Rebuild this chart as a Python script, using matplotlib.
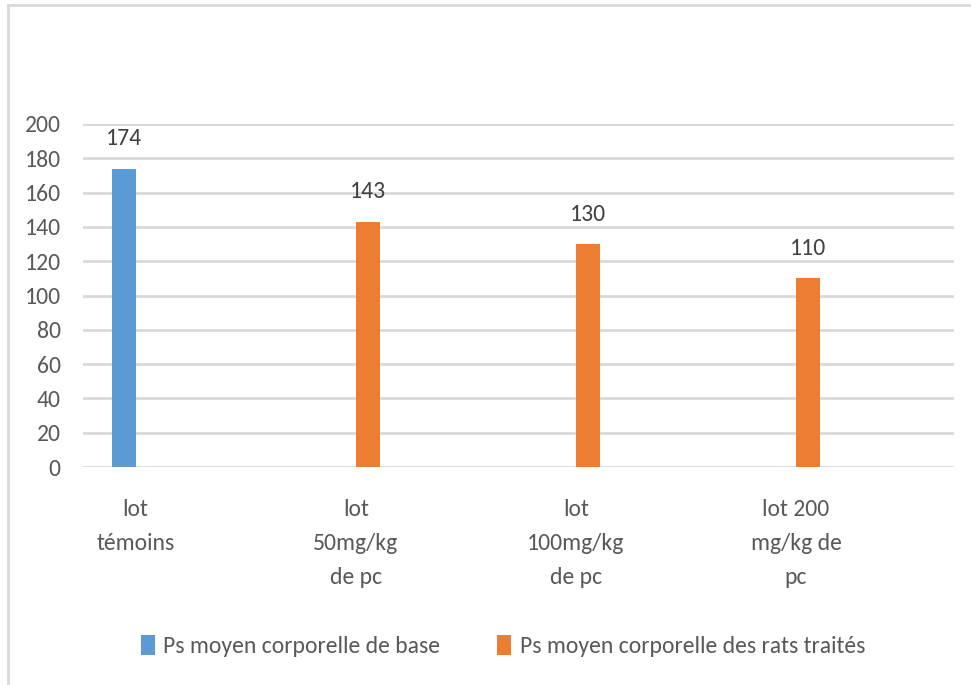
import matplotlib
matplotlib.use("Agg")
import matplotlib.pyplot as plt
from matplotlib.patches import Patch
from matplotlib.lines import Line2D
import numpy as np

plt.rcParams['font.family'] = ['Carlito', 'DejaVu Sans']

categories = ["lot\ntémoins", "lot\n50mg/kg\nde pc", "lot\n100mg/kg\nde pc", "lot 200\nmg/kg de\npc"]
series_names = ["Ps moyen corporelle de base", "Ps moyen corporelle des rats traités"]
base_values = [174, None, None, None]
treated_values = [None, 143, 130, 110]
yticks = [0, 20, 40, 60, 80, 100, 120, 140, 160, 180, 200]

BLUE = "#5B9BD5"
ORANGE = "#ED7D31"
GRID = "#D9D9D9"
TXT = "#595959"
LBL = "#404040"

W, H = 971, 685
fig = plt.figure(figsize=(W / 100, H / 100), dpi=100)
fig.patch.set_facecolor("white")

# chart border (left and top)
fig.add_artist(Line2D([8 / W, 8 / W], [1 - 683 / H, 1 - 5 / H], color=GRID, lw=2.0))
fig.add_artist(Line2D([8 / W, 1.0], [1 - 5 / H, 1 - 5 / H], color=GRID, lw=2.0))

ax = fig.add_axes([83 / W, 1 - 467 / H, (954 - 83) / W, 343 / H])
x = np.arange(len(categories))
bw = 0.109

bx = [xi - bw / 2 for xi, v in zip(x, base_values) if v is not None]
bv = [v for v in base_values if v is not None]
tx = [xi + bw / 2 for xi, v in zip(x, treated_values) if v is not None]
tv = [v for v in treated_values if v is not None]

b1 = ax.bar(bx, bv, width=bw, color=BLUE, zorder=3)
b2 = ax.bar(tx, tv, width=bw, color=ORANGE, zorder=3)

for bars, vals in ((b1, bv), (b2, tv)):
    for rect, v in zip(bars, vals):
        ax.annotate(str(v), (rect.get_x() + rect.get_width() / 2, v),
                    xytext=(0, 30), textcoords="offset pixels",
                    ha="center", va="center", fontsize=17, color=LBL)

ax.set_xlim(-0.239, 3.718)
ax.set_ylim(0, 200)
ax.set_yticks(yticks)
ax.set_yticklabels([str(t) for t in yticks], fontsize=17, color=TXT)
ax.set_xticks(x)
ax.set_xticklabels(categories, fontsize=17, color=TXT, linespacing=1.78)
ax.tick_params(axis="x", length=0, pad=23)
ax.tick_params(axis="y", length=0, pad=16)
ax.yaxis.grid(True, color=GRID, lw=2.0, zorder=0)
ax.set_axisbelow(True)
for s in ax.spines.values():
    s.set_visible(False)

handles = [Patch(facecolor=BLUE, edgecolor="none"), Patch(facecolor=ORANGE, edgecolor="none")]
leg = fig.legend(handles, series_names, loc="center", ncol=2,
                 bbox_to_anchor=(503 / W, 1 - 646 / H), frameon=False,
                 fontsize=17, handlelength=0.6, handleheight=0.95,
                 handletextpad=0.35, columnspacing=2.4, labelcolor=TXT)

fig.savefig("out.png", dpi=100, facecolor="white")
